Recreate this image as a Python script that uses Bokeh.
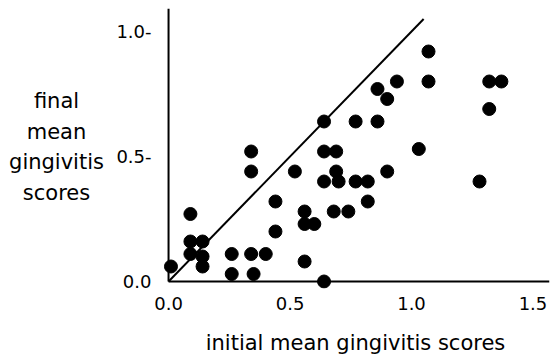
from bokeh.plotting import figure
from bokeh.layouts import row
from bokeh.models import Range1d, FixedTicker
from bokeh.core.properties import value
from bokeh.embed import file_html
from bokeh.resources import INLINE

# data
initial = [0.01, 0.09, 0.09, 0.14, 0.09, 0.14, 0.14, 0.26, 0.26, 0.34,
           0.34, 0.34, 0.40, 0.35, 0.44, 0.44, 0.52, 0.56, 0.56, 0.60,
           0.56, 0.64, 0.64, 0.64, 0.69, 0.69, 0.64, 0.70, 0.68, 0.74,
           0.77, 0.77, 0.82, 0.82, 0.86, 0.86, 0.90, 0.90, 0.94, 1.03,
           1.07, 1.07, 1.28, 1.32, 1.37, 1.32]
final = [0.06, 0.27, 0.16, 0.16, 0.11, 0.10, 0.06, 0.11, 0.03, 0.52,
         0.44, 0.11, 0.11, 0.03, 0.32, 0.20, 0.44, 0.28, 0.23, 0.23,
         0.08, 0.00, 0.64, 0.52, 0.52, 0.44, 0.40, 0.40, 0.28, 0.28,
         0.64, 0.40, 0.40, 0.32, 0.77, 0.64, 0.73, 0.44, 0.80, 0.53,
         0.92, 0.80, 0.40, 0.80, 0.80, 0.69]

diag_x = [0.0, 1.05]
diag_y = [0.0, 1.05]

x_ticks = [0.0, 0.5, 1.0, 1.5]
x_tick_labels = ["0.0", "0.5", "1.0", "1.5"]
y_ticks = [0.0, 0.5, 1.0]
y_tick_labels = ["0.0", "0.5-", "1.0-"]

x_title = "initial mean gingivitis scores"
y_title_lines = ["final", "mean", "gingivitis", "scores"]

# layout constants for the horizontal y title (kept apart from the data)
TITLE_W = 112
TITLE_LINE_Y = [0.724, 0.600, 0.478, 0.356]

FONT = "DejaVu Sans"

x0, x1 = -0.029, 1.568
y0, y1 = -0.028, 1.092
yr = Range1d(y0, y1)

# left strip holding the horizontal y-axis title
t = figure(width=TITLE_W, height=360, output_backend="svg", toolbar_location=None,
           x_range=Range1d(0, TITLE_W), y_range=yr,
           x_axis_location=None, y_axis_location=None,
           min_border_left=0, min_border_right=0, min_border_top=8,
           min_border_bottom=72)
t.outline_line_color = None
t.xgrid.grid_line_color = None
t.ygrid.grid_line_color = None
t.text(x=[TITLE_W / 2] * len(y_title_lines), y=TITLE_LINE_Y, text=y_title_lines,
       text_font=value(FONT), text_font_size="21px", text_align="center",
       text_baseline="middle", text_color="black")

p = figure(width=551 - TITLE_W, height=360, output_backend="svg",
           toolbar_location=None,
           x_range=Range1d(x0, x1), y_range=yr,
           min_border_left=161 - TITLE_W, min_border_right=2, min_border_top=8,
           min_border_bottom=72)
p.outline_line_color = None
p.background_fill_color = "white"
p.border_fill_color = "white"
p.xgrid.grid_line_color = None
p.ygrid.grid_line_color = None

for ax in (p.xaxis[0], p.yaxis[0]):
    ax.axis_line_color = None
    ax.major_tick_line_color = None
    ax.minor_tick_line_color = None
    ax.major_label_text_font = FONT
    ax.major_label_text_font_size = "18px"
    ax.major_label_text_color = "black"
    ax.axis_label_text_font = FONT
    ax.axis_label_text_font_size = "21px"
    ax.axis_label_text_font_style = "normal"
    ax.axis_label_text_color = "black"

p.xaxis.ticker = FixedTicker(ticks=x_ticks)
p.xaxis.major_label_overrides = {t_: s for t_, s in zip(x_ticks, x_tick_labels)}
p.yaxis.ticker = FixedTicker(ticks=y_ticks)
p.yaxis.major_label_overrides = {t_: s for t_, s in zip(y_ticks, y_tick_labels)}
p.xaxis.major_label_standoff = 2
p.yaxis.major_label_standoff = 4

p.xaxis.axis_label = x_title
p.xaxis.axis_label_standoff = 18

# axis lines
p.segment(x0=[0.0, 0.0], y0=[0.0, 0.0], x1=[0.0, x1], y1=[y1, 0.0],
          line_color="black", line_width=2)

# diagonal y = x
p.line(diag_x, diag_y, line_color="black", line_width=2)

p.scatter(initial, final, size=13, marker="circle",
          fill_color="black", line_color="black")

layout = row(t, p, spacing=0)
open("out.html", "w").write(file_html(layout, INLINE))
